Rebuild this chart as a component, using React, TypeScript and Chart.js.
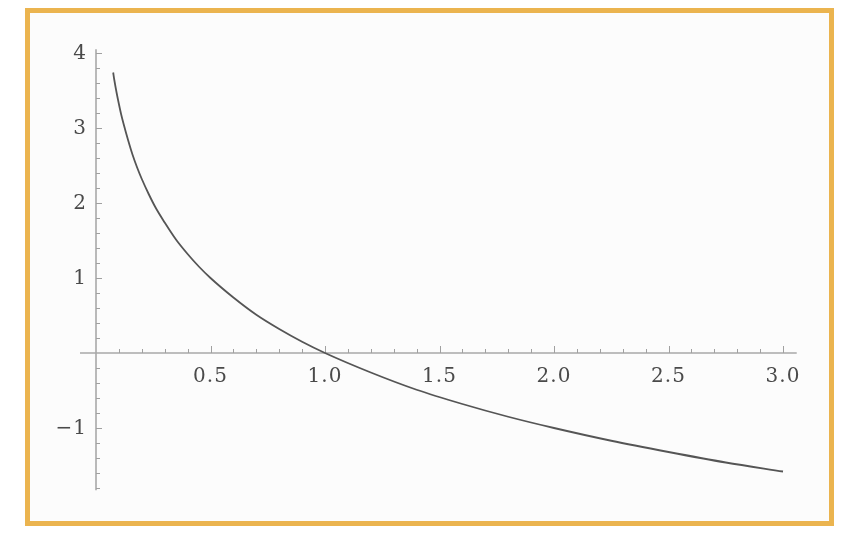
import React, { useEffect, useRef } from "react";
import { Chart, registerables } from "chart.js";

Chart.register(...registerables);

// Curve values
const curveX = [0.075, 0.08, 0.09, 0.1, 0.11, 0.12, 0.14, 0.16, 0.18, 0.2, 0.23, 0.26, 0.3, 0.35, 0.4, 0.45, 0.5, 0.6, 0.7, 0.8, 0.9, 1.0, 1.2, 1.4, 1.6, 1.8, 2.0, 2.25, 2.5, 2.75, 3.0];
const curveY = [3.74, 3.64, 3.47, 3.32, 3.18, 3.06, 2.84, 2.64, 2.47, 2.32, 2.12, 1.94, 1.74, 1.51, 1.32, 1.15, 1.0, 0.74, 0.51, 0.32, 0.15, 0.0, -0.26, -0.49, -0.68, -0.85, -1.0, -1.17, -1.32, -1.46, -1.58];

// Axis tick labels
const xTickValues = [0.5, 1.0, 1.5, 2.0, 2.5, 3.0];
const xTickLabels = ["0.5", "1.0", "1.5", "2.0", "2.5", "3.0"];
const yTickValues = [-1, 1, 2, 3, 4];
const yTickLabels = ["\u22121", "1", "2", "3", "4"];

const axesPlugin = {
  id: "crossAxes",
  beforeDatasetsDraw(chart: any) {
    const ctx = chart.ctx;
    const xs = chart.scales.x;
    const ys = chart.scales.y;
    const x0 = xs.getPixelForValue(0);
    const y0 = ys.getPixelForValue(0);
    ctx.save();
    // axis lines
    ctx.strokeStyle = "#a8a8a8";
    ctx.lineWidth = 1.6;
    ctx.beginPath();
    ctx.moveTo(xs.getPixelForValue(-0.07), y0);
    ctx.lineTo(xs.getPixelForValue(3.06), y0);
    ctx.moveTo(x0, ys.getPixelForValue(4.05));
    ctx.lineTo(x0, ys.getPixelForValue(-1.83));
    ctx.stroke();
    // x ticks (upward)
    ctx.strokeStyle = "#a0a0a0";
    ctx.lineWidth = 1;
    ctx.beginPath();
    for (let i = 1; i <= 30; i++) {
      const px = Math.round(xs.getPixelForValue(i / 10)) + 0.5;
      const len = i % 5 === 0 ? 7 : 4;
      ctx.moveTo(px, y0);
      ctx.lineTo(px, y0 - len);
    }
    // y ticks (rightward)
    for (let i = -9; i <= 20; i++) {
      if (i === 0) continue;
      const py = Math.round(ys.getPixelForValue(i / 5)) + 0.5;
      const len = i % 5 === 0 ? 6 : 4;
      ctx.moveTo(x0, py);
      ctx.lineTo(x0 + len, py);
    }
    ctx.stroke();
    // labels
    ctx.fillStyle = "#4a4a4a";
    ctx.font = "20px 'DejaVu Serif'";
    try { (ctx as any).letterSpacing = "1px"; } catch (e) {}
    ctx.textAlign = "center";
    ctx.textBaseline = "middle";
    xTickValues.forEach((v, i) => {
      ctx.fillText(xTickLabels[i], xs.getPixelForValue(v), y0 + 24);
    });
    ctx.textAlign = "right";
    yTickValues.forEach((v, i) => {
      ctx.fillText(yTickLabels[i], x0 - 9, ys.getPixelForValue(v) + 1);
    });
    ctx.restore();
  },
};

export default function App() {
  const ref = useRef<HTMLCanvasElement | null>(null);
  useEffect(() => {
    if (!ref.current) return;
    const chart = new Chart(ref.current, {
      type: "line",
      data: {
        datasets: [
          {
            data: curveX.map((x, i) => ({ x, y: curveY[i] })),
            borderColor: "#555555",
            borderWidth: 1.8,
            pointRadius: 0,
            cubicInterpolationMode: "monotone",
            fill: false,
            clip: false as any,
          },
        ],
      },
      options: {
        animation: false,
        responsive: true,
        maintainAspectRatio: false,
        layout: { padding: { left: 66, right: 46, top: 40, bottom: 93 } },
        plugins: { legend: { display: false }, tooltip: { enabled: false } },
        scales: {
          x: { type: "linear", min: 0, max: 3, display: false },
          y: { type: "linear", min: -1, max: 4, display: false },
        },
      },
      plugins: [axesPlugin],
    });
    return () => chart.destroy();
  }, []);

  return (
    <div style={{ position: "fixed", left: 0, top: 0, width: 857, height: 544, background: "#ffffff" }}>
      <div
        style={{
          position: "absolute",
          left: 25,
          top: 8,
          width: 809,
          height: 518,
          boxSizing: "border-box",
          border: "5px solid #ebb44f",
          background: "#fcfcfc",
        }}
      >
        <div style={{ position: "relative", width: 799, height: 508 }}>
          <canvas ref={ref} />
        </div>
      </div>
    </div>
  );
}
